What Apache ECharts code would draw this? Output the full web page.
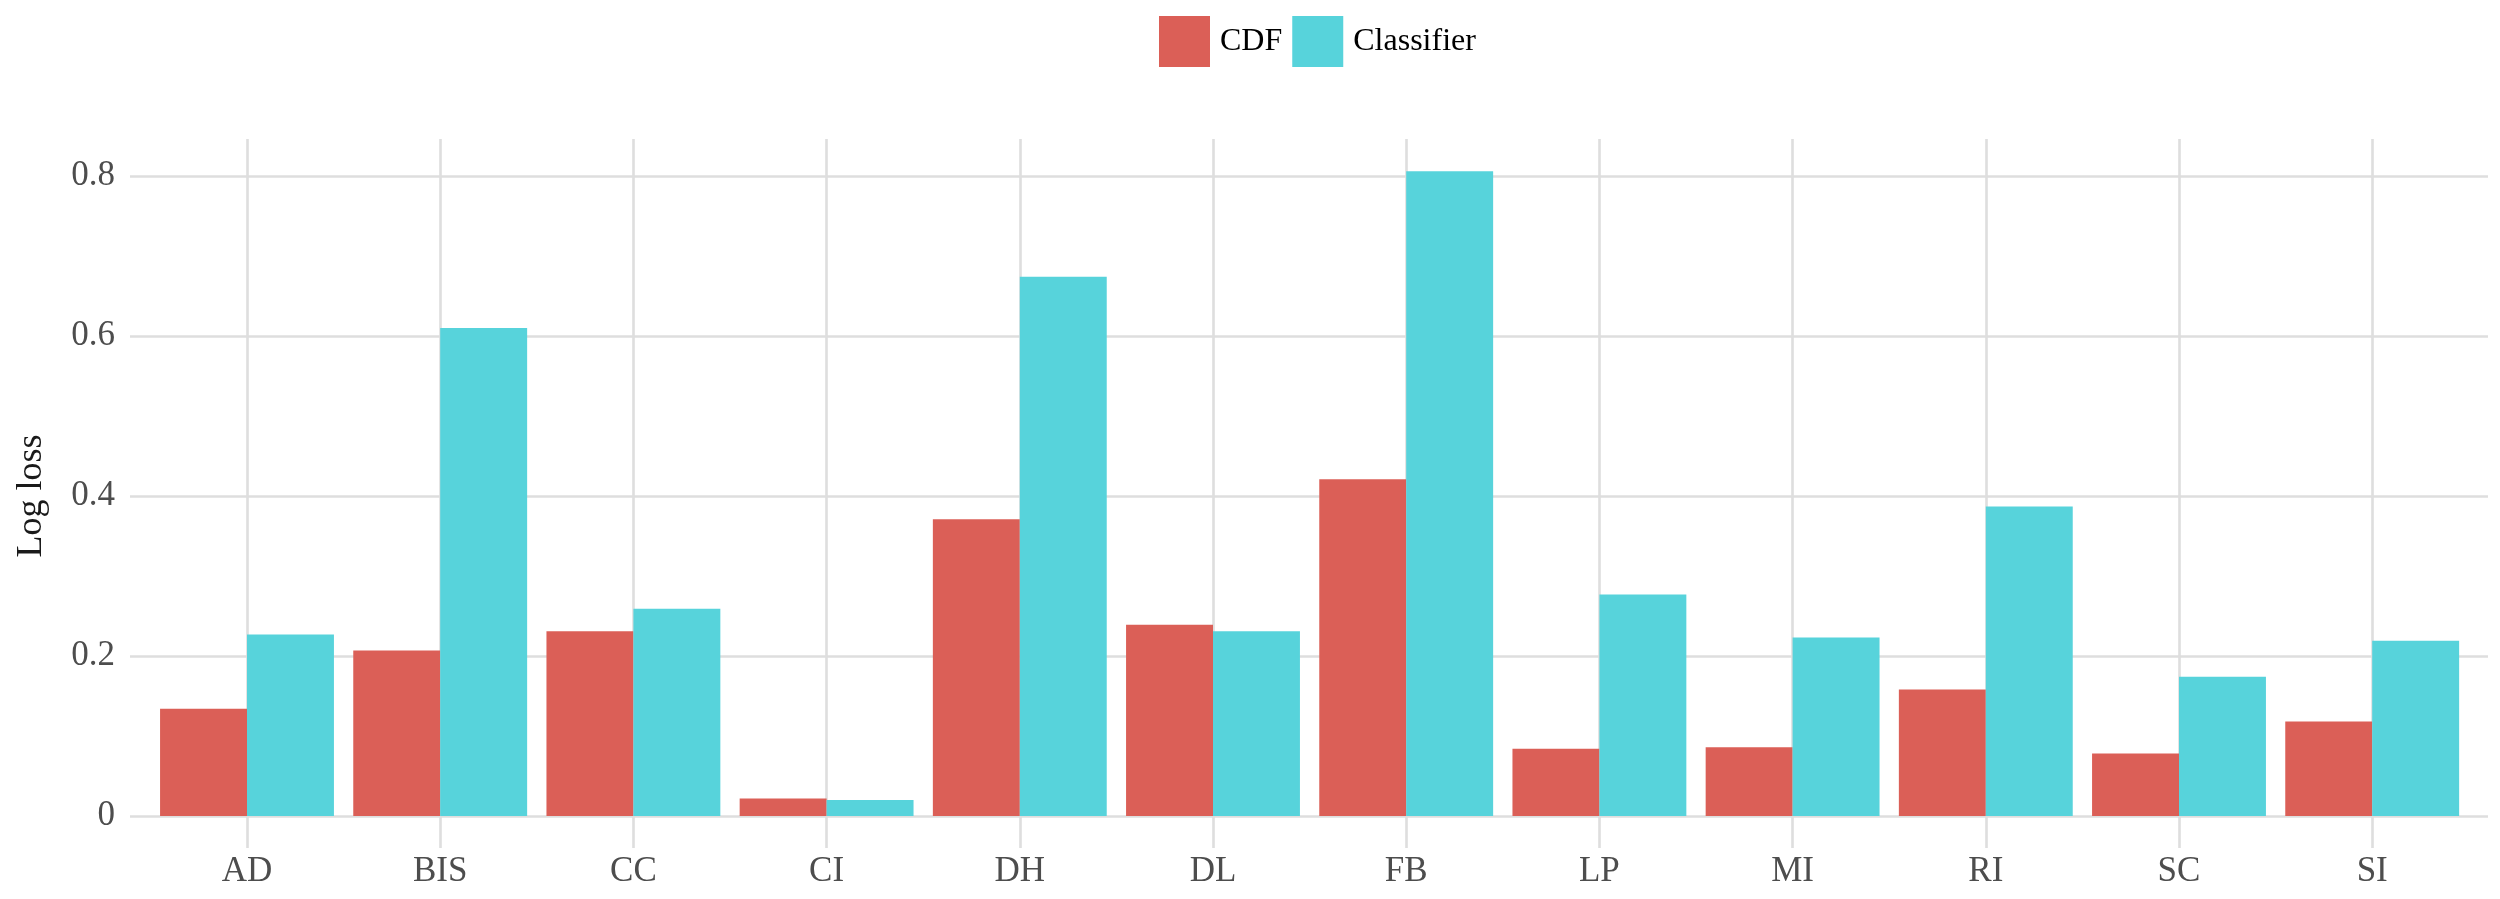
<!DOCTYPE html>
<html>
<head>
<meta charset="utf-8">
<script src="https://cdn.jsdelivr.net/npm/echarts@6/dist/echarts.min.js"></script>
<style>html,body{margin:0;padding:0;background:#fff;}#c{width:2500px;height:899px;}</style>
</head>
<body>
<div id="c"></div>
<script>
const categories = ['AD','BIS','CC','CI','DH','DL','FB','LP','MI','RI','SC','SI'];
const cdfValues = [0.134, 0.207, 0.231, 0.022, 0.371, 0.239, 0.421, 0.084, 0.086, 0.158, 0.078, 0.118];
const classifierValues = [0.227, 0.610, 0.259, 0.020, 0.674, 0.231, 0.806, 0.277, 0.223, 0.387, 0.174, 0.219];
const yTicks = [0, 0.2, 0.4, 0.6, 0.8];

const FONT = 'Liberation Serif';
const GRID_COLOR = '#dedede';
const chart = echarts.init(document.getElementById('c'), null, {renderer: 'canvas'});
chart.setOption({
  backgroundColor: '#ffffff',
  animation: false,
  legend: {
    left: 1154, top: 11,
    itemWidth: 51, itemHeight: 51, itemGap: 10,
    icon: 'rect',
    textStyle: {fontFamily: FONT, fontSize: 32, color: '#000', padding: [0, 5, 0, 5]},
    data: ['CDF', 'Classifier']
  },
  grid: [
    {left: 150.4, right: 31.2, top: 139, bottom: 83},
    {left: 130, right: 12, top: 176, bottom: 83},
    {left: 150.4, right: 31.2, top: 139, bottom: 51}
  ],
  xAxis: [
    {type: 'category', gridIndex: 0, data: categories,
     axisLine: {show: false}, axisTick: {show: false}, splitLine: {show: false},
     axisLabel: {fontFamily: FONT, fontSize: 35, color: '#4d4d4d', margin: 38}},
    {type: 'value', gridIndex: 1, min: 0, max: 1, show: false},
    {type: 'category', gridIndex: 2, data: categories,
     axisLine: {show: false}, axisLabel: {show: false}, splitLine: {show: false},
     axisTick: {show: true, inside: true, alignWithLabel: true, length: 709,
                lineStyle: {color: GRID_COLOR, width: 2.6}}}
  ],
  yAxis: [
    {type: 'value', gridIndex: 0, min: 0, max: 0.84625, show: false},
    {type: 'value', gridIndex: 1, min: yTicks[0], max: yTicks[yTicks.length - 1], interval: 0.2,
     name: 'Log loss', nameLocation: 'middle', nameGap: 80,
     nameTextStyle: {fontFamily: FONT, fontSize: 36, color: '#1a1a1a'},
     axisLine: {show: false}, axisTick: {show: false},
     axisLabel: {fontFamily: FONT, fontSize: 35, color: '#4d4d4d', margin: 15,
                 formatter: v => (v === 0 ? '0' : String(Math.round(v * 10) / 10))},
     splitLine: {show: true, lineStyle: {color: GRID_COLOR, width: 2.6}}},
    {type: 'value', gridIndex: 2, min: 0, max: 1, show: false}
  ],
  series: [
    {name: 'CDF', type: 'bar', xAxisIndex: 0, yAxisIndex: 0, data: cdfValues,
     barWidth: '45%', barGap: '0%', itemStyle: {color: '#db5f57'}},
    {name: 'Classifier', type: 'bar', xAxisIndex: 0, yAxisIndex: 0, data: classifierValues,
     barWidth: '45%', barGap: '0%', itemStyle: {color: '#57d3db'}}
  ]
});
</script>
</body>
</html>
